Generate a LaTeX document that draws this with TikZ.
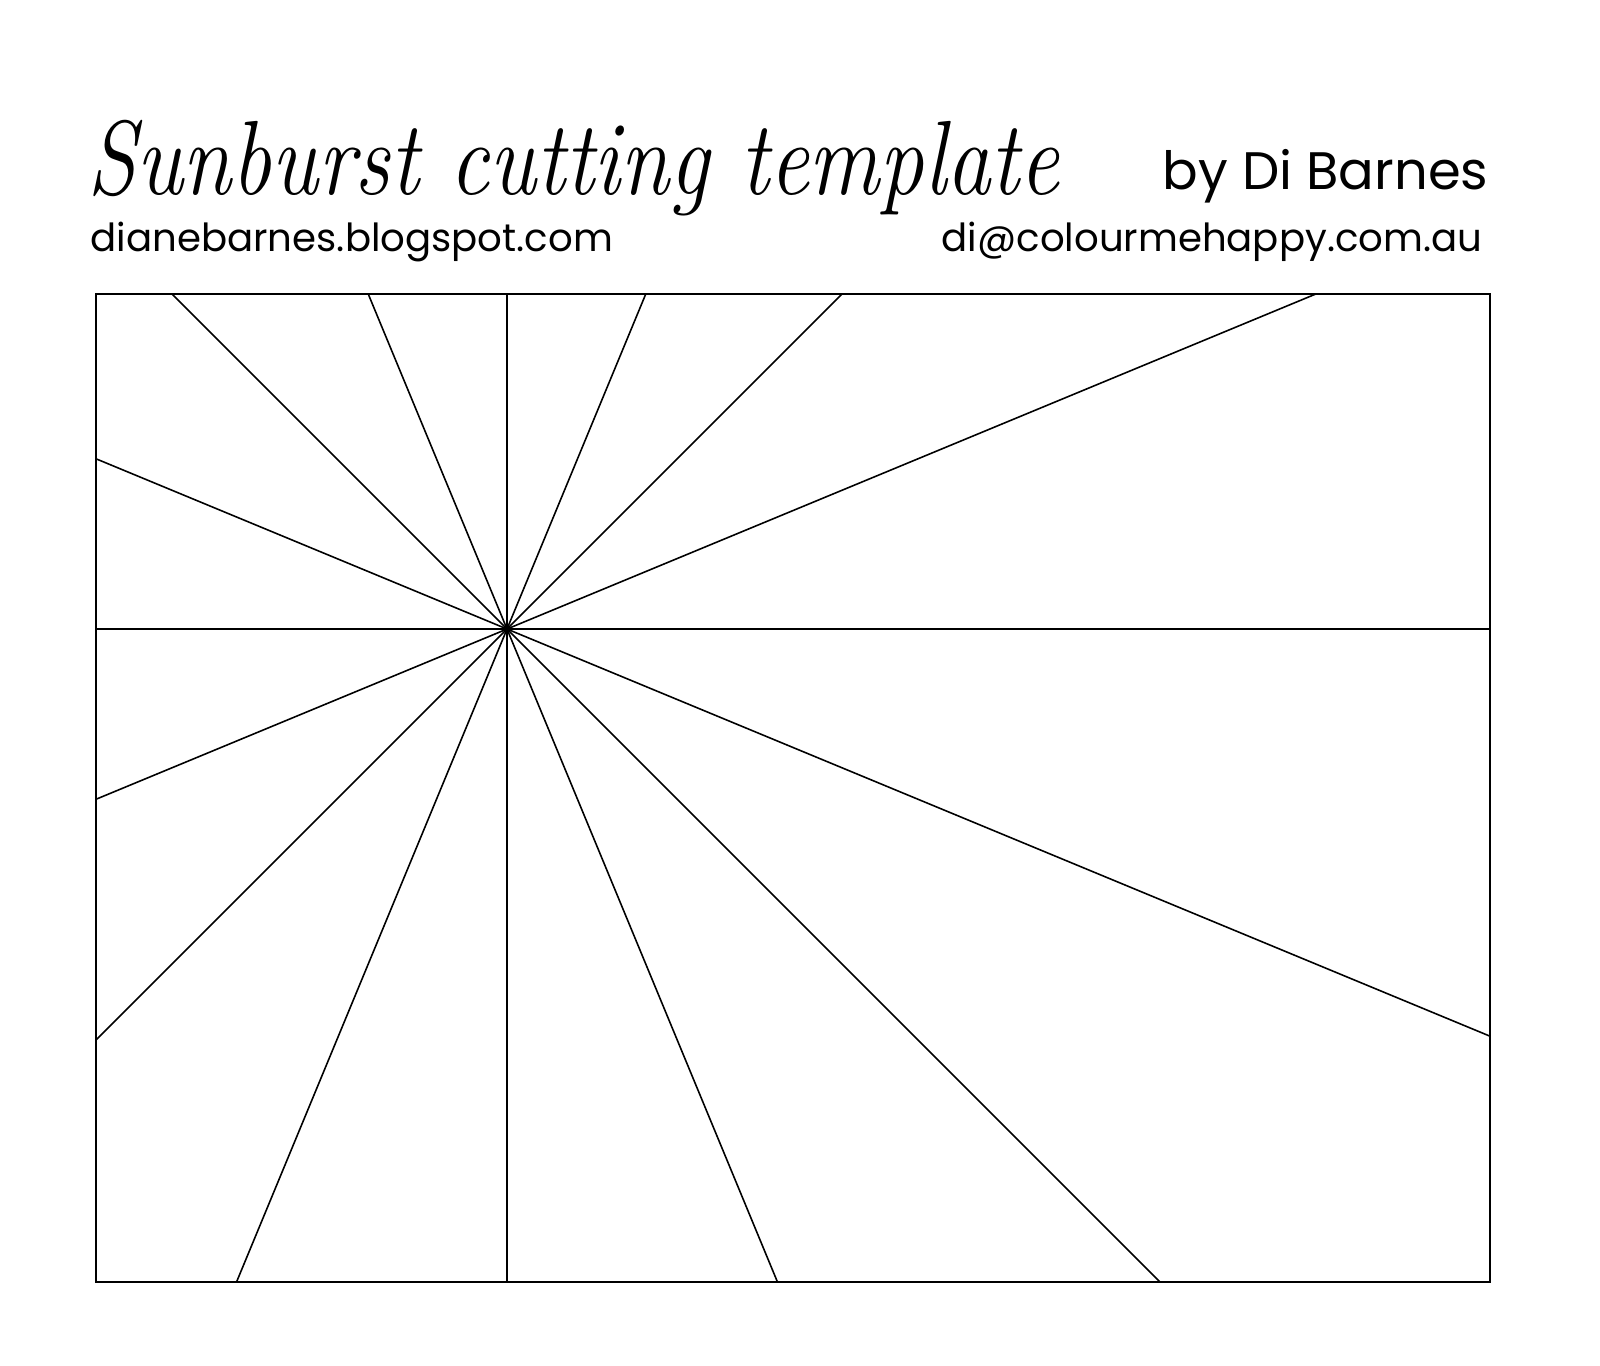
\documentclass[tikz,border=0pt]{standalone}
\usepackage{fontspec}
\newfontfamily\gothic{Poppins}
\begin{document}
\begin{tikzpicture}[x=0.01cm, y=-0.01cm,
    ray/.style={line width=0.45pt},
    frame/.style={draw, line width=0.6pt},
    headline/.style={inner sep=0pt, font=\fontsize{30}{30}\selectfont\itshape},
    byline/.style={inner sep=0pt, font=\gothic\fontsize{15}{15}\selectfont},
    weblink/.style={inner sep=0pt, font=\gothic\fontsize{11}{11}\selectfont}]
    \useasboundingbox[fill=white] (0,0) rectangle (1600,1365);
    % heading
    \node[headline, anchor=base west] (title) at (87,194) {\scalebox{0.84}[1]{Sunburst cutting template}};
    \node[byline, anchor=base east] (author) at (1489,189) {by Di Barnes};
    \node[weblink, anchor=base west] (blog) at (90,251) {dianebarnes.blogspot.com};
    \node[weblink, anchor=base east] (mail) at (1483,251) {di@colourmehappy.com.au};
    % template
    \coordinate (nw) at (96,294);
    \coordinate (se) at (1490,1282);
    \coordinate (hub) at (507,629);
    \begin{scope}
        \clip (nw) rectangle (se);
        \foreach \a in {0,22.5,...,337.5}
            \draw[ray] (hub) -- ++(\a:2000);
    \end{scope}
    \draw[frame] (nw) rectangle (se);
\end{tikzpicture}
\end{document}
